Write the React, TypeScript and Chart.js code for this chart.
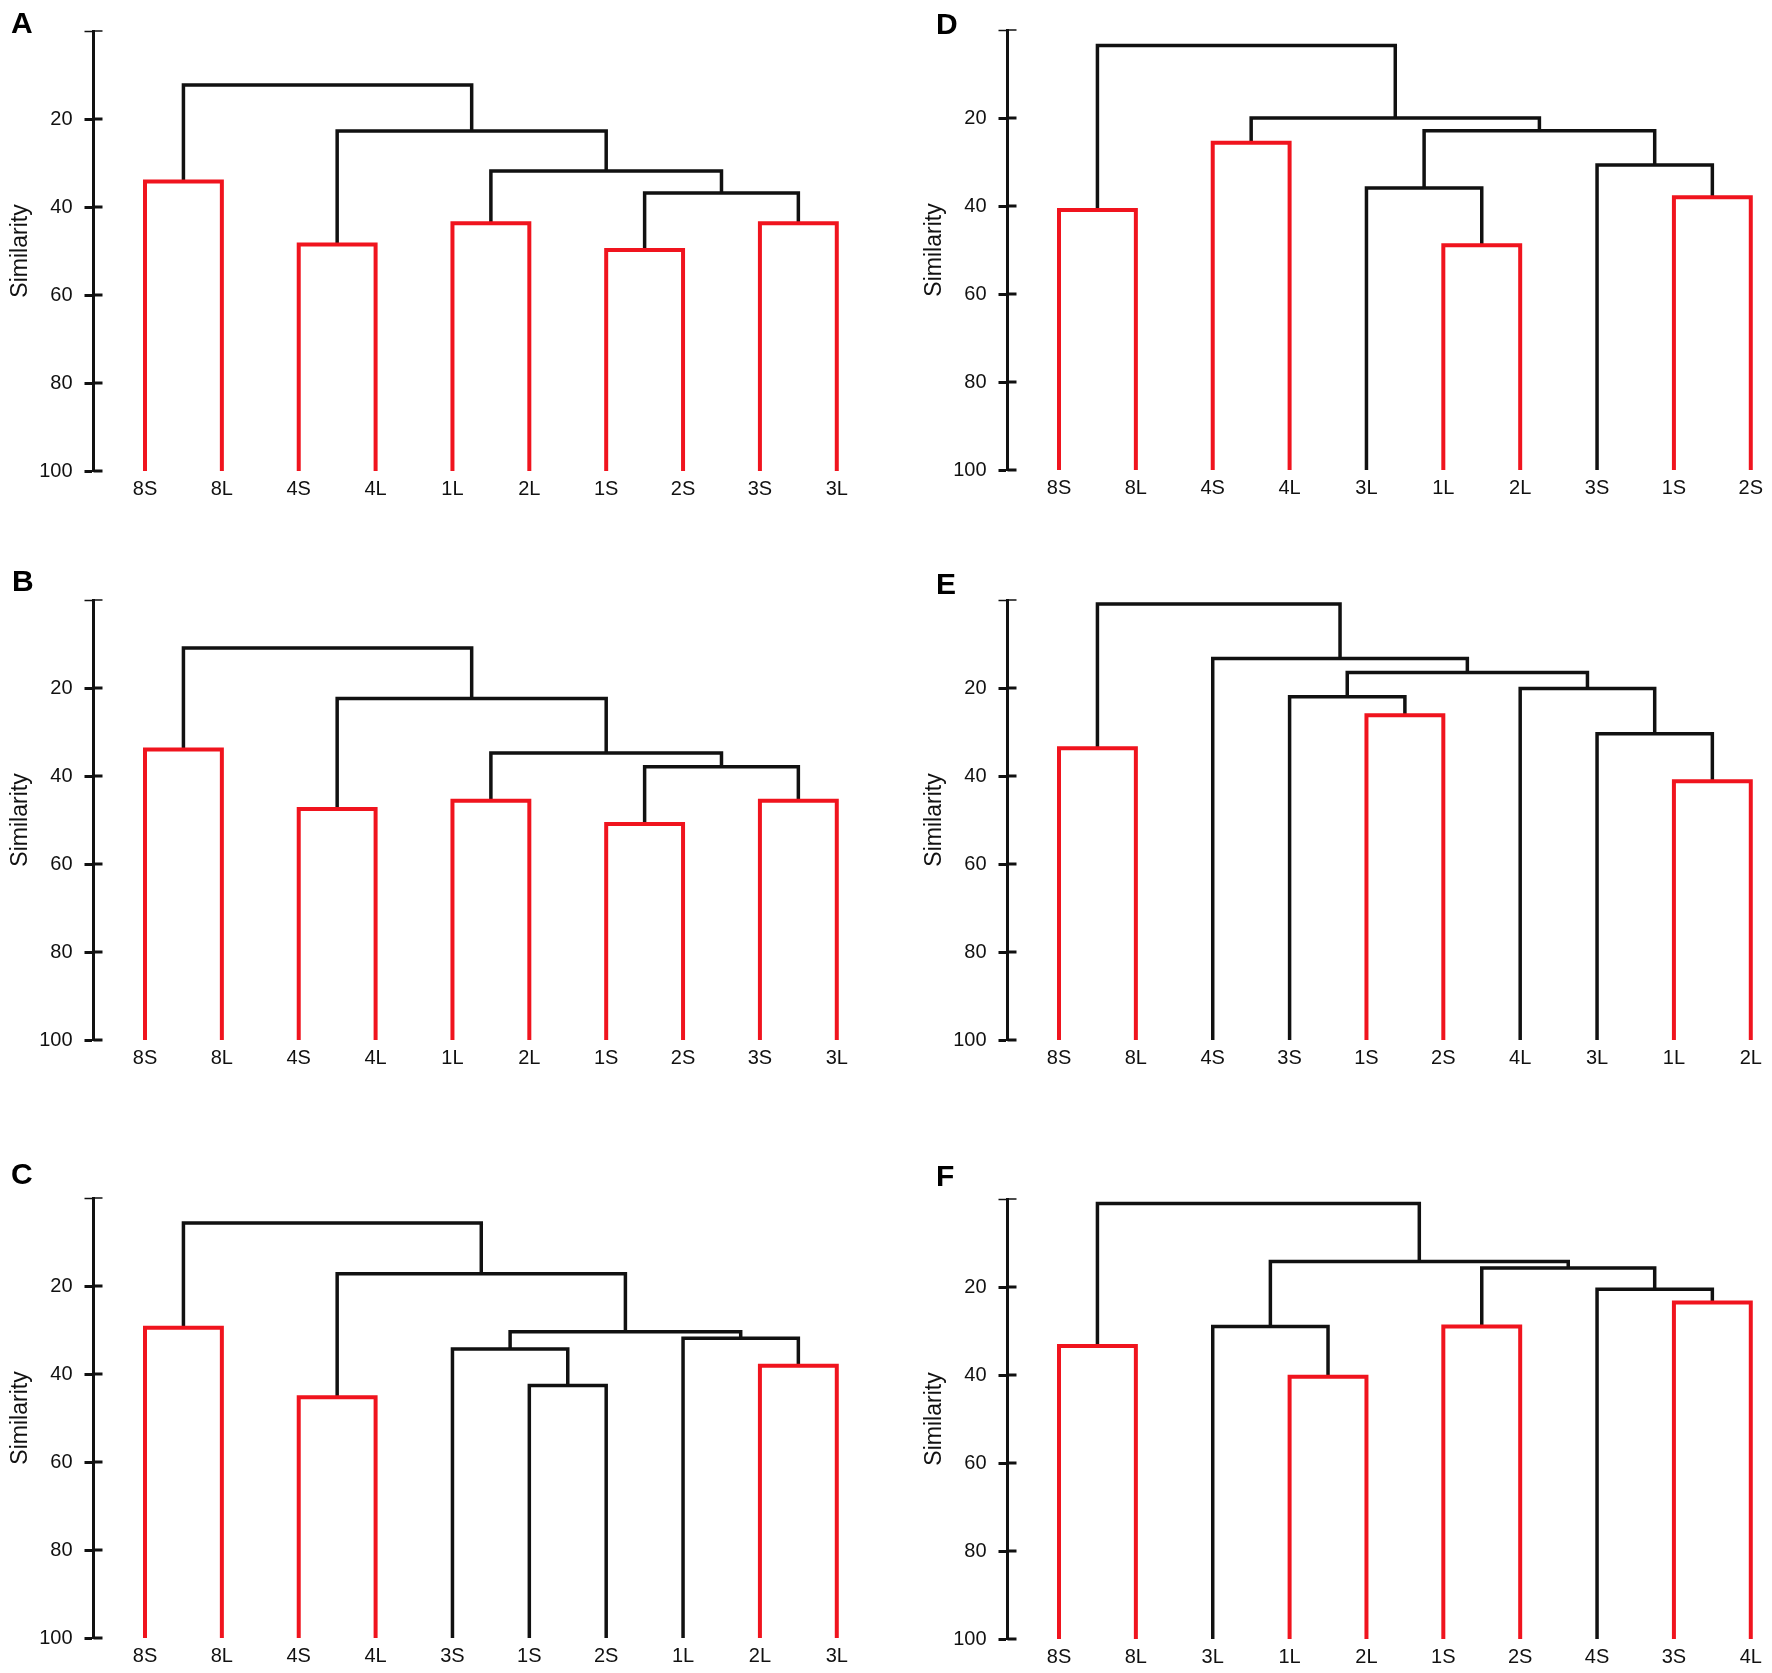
import React, { useEffect, useRef } from 'react';
import { Chart, registerables } from 'chart.js';

Chart.register(...registerables);

// ---------- data ----------
const yTickValues = [0, 20, 40, 60, 80, 100];
const yTickLabels = ['', '20', '40', '60', '80', '100'];
const yAxisTitle = 'Similarity';

// Node ids: 0..9 are leaves, 10.. are merges in listed order.
const labelsA = ['8S', '8L', '4S', '4L', '1L', '2L', '1S', '2S', '3S', '3L'];
const linksA = [[0, 1], [2, 3], [4, 5], [6, 7], [8, 9], [13, 14], [12, 15], [11, 16], [10, 17]];
const heightsA = [34.2, 48.5, 43.7, 49.8, 43.7, 36.8, 31.8, 22.7, 12.3];
const redA = [1, 1, 1, 1, 1, 0, 0, 0, 0];

const labelsB = ['8S', '8L', '4S', '4L', '1L', '2L', '1S', '2S', '3S', '3L'];
const linksB = [[0, 1], [2, 3], [4, 5], [6, 7], [8, 9], [13, 14], [12, 15], [11, 16], [10, 17]];
const heightsB = [34.0, 47.5, 45.6, 50.9, 45.6, 37.9, 34.8, 22.4, 10.9];
const redB = [1, 1, 1, 1, 1, 0, 0, 0, 0];

const labelsC = ['8S', '8L', '4S', '4L', '3S', '1S', '2S', '1L', '2L', '3L'];
const linksC = [[0, 1], [2, 3], [5, 6], [4, 12], [8, 9], [7, 14], [13, 15], [11, 16], [10, 17]];
const heightsC = [29.5, 45.3, 42.6, 34.3, 38.1, 31.9, 30.4, 17.2, 5.7];
const redC = [1, 1, 0, 0, 1, 0, 0, 0, 0];

const labelsD = ['8S', '8L', '4S', '4L', '3L', '1L', '2L', '3S', '1S', '2S'];
const linksD = [[0, 1], [2, 3], [5, 6], [4, 12], [8, 9], [7, 14], [13, 15], [11, 16], [10, 17]];
const heightsD = [40.9, 25.6, 48.9, 35.9, 38.0, 30.7, 22.9, 20.0, 3.5];
const redD = [1, 1, 1, 0, 1, 0, 0, 0, 0];

const labelsE = ['8S', '8L', '4S', '3S', '1S', '2S', '4L', '3L', '1L', '2L'];
const linksE = [[0, 1], [4, 5], [3, 11], [8, 9], [7, 13], [6, 14], [12, 15], [2, 16], [10, 17]];
const heightsE = [33.7, 26.2, 22.0, 41.2, 30.4, 20.1, 16.5, 13.3, 0.9];
const redE = [1, 1, 0, 1, 0, 0, 0, 0, 0];

const labelsF = ['8S', '8L', '3L', '1L', '2L', '1S', '2S', '4S', '3S', '4L'];
const linksF = [[0, 1], [3, 4], [2, 11], [5, 6], [8, 9], [7, 14], [13, 15], [12, 16], [10, 17]];
const heightsF = [33.4, 40.4, 29.0, 29.0, 23.5, 20.5, 15.7, 14.2, 1.0];
const redF = [1, 1, 0, 1, 1, 0, 0, 0, 0];

// ---------- styling / layout ----------
const RED = '#f0141e';
const BLACK = '#111111';
const FONT = '"Liberation Sans", Arial, Helvetica, sans-serif';
const CANVAS_W = 858;
const CANVAS_H = 498;
const PAD_TOP = 20;
const X_AXIS_H = 34;
const Y_AXIS_W = 93.5;
const X_MIN = -0.67;
const X_MAX = 9.25;

const panels = [
  { letter: 'A', labels: labelsA, links: linksA, heights: heightsA, red: redA, left: 0, top: 7, letterLeft: 11, letterTop: 8 },
  { letter: 'B', labels: labelsB, links: linksB, heights: heightsB, red: redB, left: 0, top: 576, letterLeft: 12, letterTop: 566 },
  { letter: 'C', labels: labelsC, links: linksC, heights: heightsC, red: redC, left: 0, top: 1174, letterLeft: 11, letterTop: 1159 },
  { letter: 'D', labels: labelsD, links: linksD, heights: heightsD, red: redD, left: 914, top: 6, letterLeft: 936, letterTop: 9 },
  { letter: 'E', labels: labelsE, links: linksE, heights: heightsE, red: redE, left: 914, top: 576, letterLeft: 936, letterTop: 569 },
  { letter: 'F', labels: labelsF, links: linksF, heights: heightsF, red: redF, left: 914, top: 1175, letterLeft: 936, letterTop: 1161 },
];

function buildDatasets(labels: string[], links: number[][], heights: number[], red: number[]) {
  const xs: number[] = labels.map((_, i) => i);
  const ys: number[] = labels.map(() => 100);
  const datasets: any[] = [];
  links.forEach(([l, r], k) => {
    const h = heights[k];
    const isRed = !!red[k];
    datasets.push({
      data: [
        { x: xs[l], y: ys[l] },
        { x: xs[l], y: h },
        { x: xs[r], y: h },
        { x: xs[r], y: ys[r] },
      ],
      borderColor: isRed ? RED : BLACK,
      backgroundColor: isRed ? RED : BLACK,
      borderWidth: isRed ? 4 : 3.5,
      pointRadius: 0,
      pointHoverRadius: 0,
      showLine: true,
      tension: 0,
      fill: false,
      borderJoinStyle: 'miter',
      borderCapStyle: 'butt',
    });
    xs.push((xs[l] + xs[r]) / 2);
    ys.push(h);
  });
  return datasets;
}

const innerTicks = {
  id: 'innerTicks',
  afterDraw(chart: any) {
    const s = chart.scales.y;
    const ctx = chart.ctx;
    ctx.save();
    ctx.strokeStyle = BLACK;
    s.ticks.forEach((t: any) => {
      const y = s.getPixelForValue(t.value);
      ctx.lineWidth = t.value === 0 ? 1.5 : 3;
      ctx.beginPath();
      ctx.moveTo(s.right, y);
      ctx.lineTo(s.right + 9, y);
      ctx.stroke();
    });
    ctx.restore();
  },
};

function Panel({ p }: { p: any }) {
  const ref = useRef<HTMLCanvasElement | null>(null);
  useEffect(() => {
    if (!ref.current) return;
    const chart = new Chart(ref.current, {
      type: 'scatter',
      data: { datasets: buildDatasets(p.labels, p.links, p.heights, p.red) },
      options: {
        animation: false,
        responsive: false,
        maintainAspectRatio: false,
        events: [],
        layout: { padding: { top: PAD_TOP, right: 2, bottom: 0, left: 0 } },
        plugins: { legend: { display: false }, tooltip: { enabled: false }, title: { display: false } },
        scales: {
          x: {
            type: 'linear',
            min: X_MIN,
            max: X_MAX,
            grid: { display: false, drawTicks: false },
            border: { display: false },
            afterBuildTicks: (scale: any) => {
              scale.ticks = p.labels.map((_: string, i: number) => ({ value: i }));
            },
            afterFit: (scale: any) => {
              scale.height = X_AXIS_H;
            },
            ticks: {
              autoSkip: false,
              maxRotation: 0,
              minRotation: 0,
              padding: 6,
              color: BLACK,
              font: { family: FONT, size: 20 },
              callback: (_v: any, i: number) => p.labels[i],
            },
          },
          y: {
            type: 'linear',
            min: 0,
            max: 100,
            reverse: true,
            grid: {
              display: true,
              drawOnChartArea: false,
              drawTicks: true,
              tickLength: 9,
              tickColor: BLACK,
              color: BLACK,
              tickWidth: (ctx: any) => (ctx.tick && ctx.tick.value === 0 ? 1.5 : 3),
            },
            border: { display: true, color: BLACK, width: 3 },
            afterBuildTicks: (scale: any) => {
              scale.ticks = yTickValues.map((v) => ({ value: v }));
            },
            afterFit: (scale: any) => {
              scale.width = Y_AXIS_W;
            },
            ticks: {
              padding: 12,
              color: BLACK,
              font: { family: FONT, size: 20 },
              callback: (_v: any, i: number) => yTickLabels[i],
            },
            title: {
              display: true,
              text: yAxisTitle,
              color: BLACK,
              font: { family: FONT, size: 23 },
              padding: { top: 7, bottom: 0 },
            },
          },
        },
      },
      plugins: [innerTicks],
    } as any);
    return () => chart.destroy();
  }, [p]);

  return (
    <>
      <canvas
        ref={ref}
        width={CANVAS_W}
        height={CANVAS_H}
        style={{ position: 'absolute', left: p.left, top: p.top, width: CANVAS_W, height: CANVAS_H }}
      />
      <div
        style={{
          position: 'absolute',
          left: p.letterLeft,
          top: p.letterTop,
          fontFamily: FONT,
          fontWeight: 'bold',
          fontSize: 30,
          lineHeight: '30px',
          color: '#000',
        }}
      >
        {p.letter}
      </div>
    </>
  );
}

export default function App() {
  return (
    <div
      style={{
        position: 'absolute',
        left: 0,
        top: 0,
        width: 1772,
        height: 1673,
        overflow: 'hidden',
        background: '#ffffff',
      }}
    >
      {panels.map((p) => (
        <Panel key={p.letter} p={p} />
      ))}
    </div>
  );
}
